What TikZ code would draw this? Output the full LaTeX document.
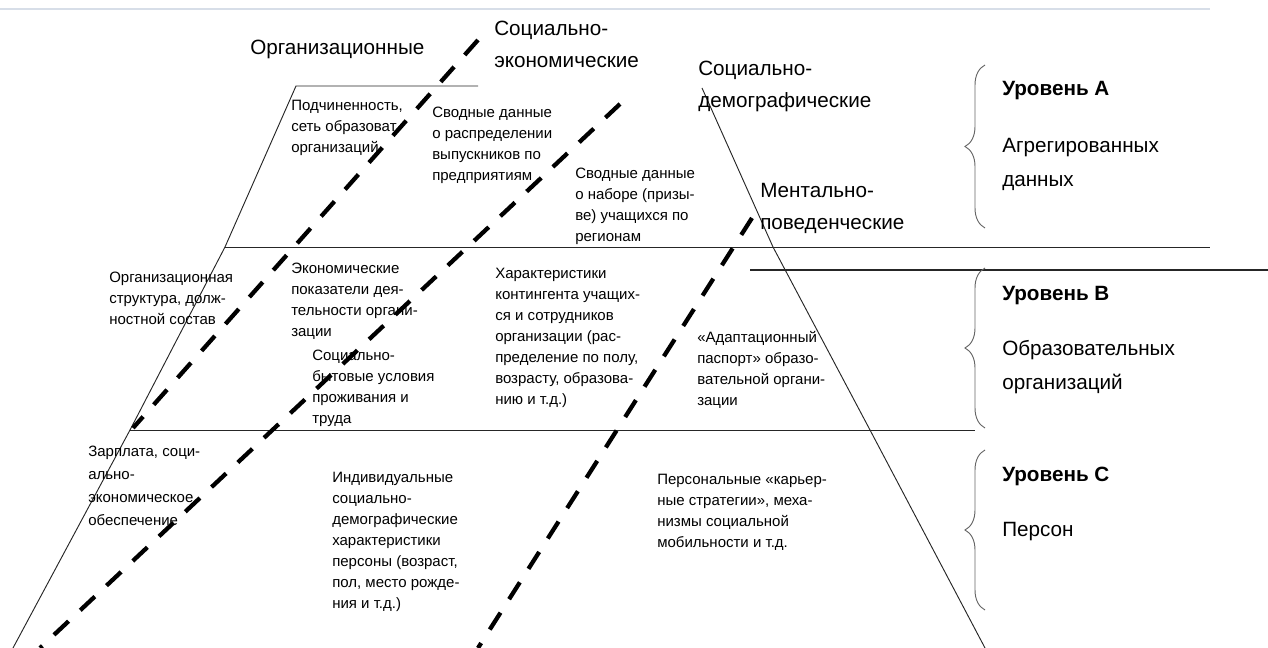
\documentclass[tikz,border=0pt]{standalone}
\usepackage{fontspec}
\setmainfont{Liberation Sans}
\usetikzlibrary{decorations.pathreplacing}
\definecolor{rulegray}{RGB}{215,222,232}

\begin{document}
\begin{tikzpicture}[x=0.75pt, y=-0.75pt,
    small/.style={anchor=north west, inner sep=0, align=left, font=\fontsize{11.25}{15.75}\selectfont},
    big/.style={anchor=north west, inner sep=0, align=left, font=\fontsize{15.5}{24}\selectfont},
    lvl/.style={anchor=north west, inner sep=0, align=left, font=\fontsize{15.5}{25.5}\selectfont},
    edge/.style={draw=black!85, line width=0.7pt},
    split/.style={draw=black, line width=3.2pt, dash pattern=on 15pt off 12pt},
    bracket/.style={draw=black!60, line width=0.7pt, decorate, decoration={brace, amplitude=15pt}}]
  \useasboundingbox (0,0) rectangle (1268,648);
  \draw[rulegray, line width=0.8pt] (0,9) -- (1210,9);

  % outline of the pyramid
  \coordinate (lt) at (296,86);
  \coordinate (lab) at (225,247);
  \coordinate (lbc) at (130,430);
  \coordinate (lend) at (13,648);
  \coordinate (topr) at (478,86);
  \coordinate (rt) at (702,88);
  \coordinate (rab) at (773,247);
  \coordinate (rbc) at (870,430);
  \coordinate (rend) at (985,648);
  \coordinate (abR) at (1210,247);
  \coordinate (bcR) at (975,430);
  \coordinate (midL) at (750,270);
  \coordinate (midR) at (1268,270);
  \draw[edge] (topr) -- (lt) -- (lab) -- (lbc) -- (lend);
  \draw[edge] (rt) -- (rab) -- (rbc) -- (rend);
  \draw[edge] (lab) -- (abR);
  \draw[edge] (lbc) -- (bcR);
  \draw[edge, line width=1.1pt] (midL) -- (midR);

  % dashed splits
  \coordinate (a1) at (478,40);
  \coordinate (a2) at (133,428);
  \coordinate (b1) at (620,104);
  \coordinate (b2) at (40,648);
  \coordinate (c1) at (752,218);
  \coordinate (c2) at (478,648);
  \draw[split] (a1) -- (a2);
  \draw[split] (b1) -- (b2);
  \draw[split] (c1) -- (c2);

  % braces
  \coordinate (ba1) at (985,228);
  \coordinate (ba2) at (985,65);
  \coordinate (bb1) at (985,428);
  \coordinate (bb2) at (985,268);
  \coordinate (bc1) at (985,610);
  \coordinate (bc2) at (985,450);
  \draw[bracket] (ba1) -- (ba2);
  \draw[bracket] (bb1) -- (bb2);
  \draw[bracket] (bc1) -- (bc2);

  % column headings
  \node[big] (hOrg) at (250,40) {Организационные};
  \node[big] (hEco) at (494,21) {Социально-\\экономические};
  \node[big] (hDem) at (698,61) {Социально-\\демографические};
  \node[big] (hMen) at (760,183) {Ментально-\\поведенческие};

  % levels
  \node[lvl, font=\fontsize{15.5}{25.5}\selectfont\bfseries] (lvA) at (1002,81) {Уровень A};
  \node[lvl] (lvAt) at (1002,138) {Агрегированных\\данных};
  \node[lvl, font=\fontsize{15.5}{25.5}\selectfont\bfseries] (lvB) at (1002,286) {Уровень B};
  \node[lvl] (lvBt) at (1002,340) {Образовательных\\организаций};
  \node[lvl, font=\fontsize{15.5}{25.5}\selectfont\bfseries] (lvC) at (1002,467) {Уровень C};
  \node[lvl] (lvCt) at (1002,522) {Персон};

  % cell texts
  \node[small] (a11) at (291,100) {Подчиненность,\\сеть образоват,\\организаций};
  \node[small] (a12) at (432,107) {Сводные данные\\о распределении\\выпускников по\\предприятиям};
  \node[small] (a13) at (575,168) {Сводные данные\\о наборе (призы-\\ве) учащихся по\\регионам};
  \node[small] (b11) at (109,272) {Организационная\\структура, долж-\\ностной состав};
  \node[small] (b12) at (291,263) {Экономические\\показатели дея-\\тельности органи-\\зации};
  \node[small] (b13) at (312,350) {Социально-\\бытовые условия\\проживания и\\труда};
  \node[small] (b14) at (495,268) {Характеристики\\контингента учащих-\\ся и сотрудников\\организации (рас-\\пределение по полу,\\возрасту, образова-\\нию и т.д.)};
  \node[small] (b15) at (697,331) {«Адаптационный\\паспорт» образо-\\вательной органи-\\зации};
  \node[small, font=\fontsize{11.25}{17.25}\selectfont] (c11) at (88,446) {Зарплата, соци-\\ально-\\экономическое\\обеспечение};
  \node[small] (c12) at (332,472) {Индивидуальные\\социально-\\демографические\\характеристики\\персоны (возраст,\\пол, место рожде-\\ния и т.д.)};
  \node[small] (c13) at (657,474) {Персональные «карьер-\\ные стратегии», меха-\\низмы социальной\\мобильности и т.д.};
\end{tikzpicture}
\end{document}
